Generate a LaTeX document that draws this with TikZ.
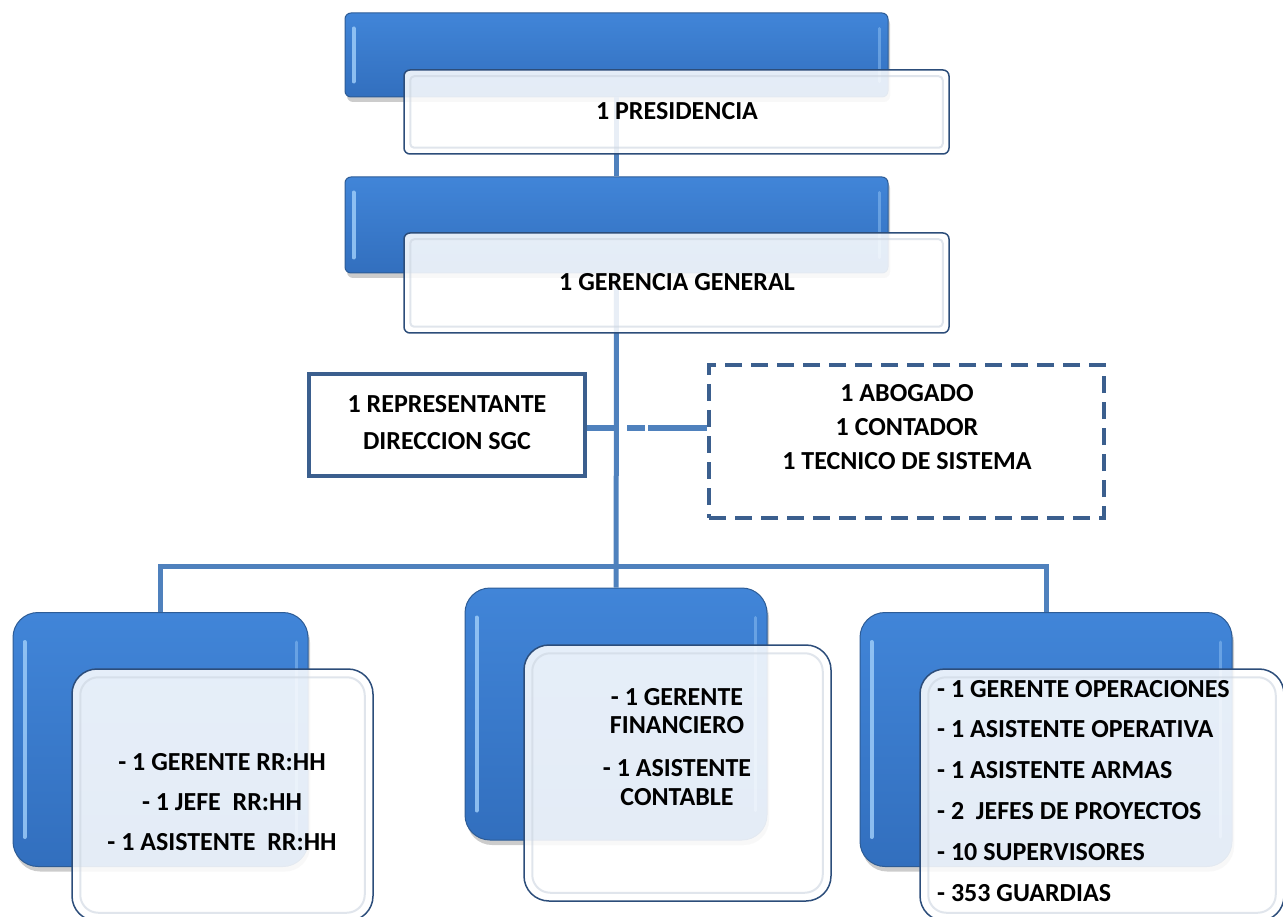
\documentclass[tikz,border=0pt]{standalone}
\usepackage{fontspec}
\setmainfont{Carlito}
\usetikzlibrary{shadows,calc}

\definecolor{linkblue}{HTML}{4F81BD}
\definecolor{frameblue}{HTML}{3B5F8E}
\definecolor{tiletop}{HTML}{4185D8}
\definecolor{tilebot}{HTML}{326FBE}
\definecolor{tileedge}{HTML}{2D5C96}
\definecolor{tileglow}{HTML}{9CCBF8}
\definecolor{cardedge}{HTML}{2C4D7A}
\definecolor{cardglow}{HTML}{CCD5E0}

% light inner frame of a front card
\newcommand\innerbevel[4]{%
  \draw[#2,rounded corners=#3]
    ($(#1.north west)+(#4,#4)$) rectangle ($(#1.south east)+(-#4,-#4)$);}
% glossy strips along the left and right sides of a tile
\newcommand\sideshine[3]{%
  \draw[tileglow, line width=4pt, opacity=0.85, line cap=round]
    ($(#1.north west)+(#2,#3)$) -- ($(#1.south west)+(#2,-#3)$);
  \draw[tileglow, line width=3pt, opacity=0.45, line cap=round]
    ($(#1.north east)+(-#2,#3)$) -- ($(#1.south east)+(-#2,-#3)$);}

\begin{document}
\begin{tikzpicture}[x=1pt,y=-1pt,
  every node/.style={inner sep=0pt},
  lbl/.style={font=\fontsize{26}{#1}\selectfont\bfseries, text=black},
  lbl/.default=30,
  link/.style={draw=linkblue, line width=5pt},
  tile/.style={draw=tileedge, line width=1pt, top color=tiletop, bottom color=tilebot,
    drop shadow={shadow xshift=2pt, shadow yshift=-5pt, opacity=0.4}},
  card/.style={draw=cardedge, line width=1.5pt, fill=white, fill opacity=0.87, text opacity=1},
  cardshine/.style={draw=cardglow, line width=2pt, opacity=0.6},
  plainbox/.style={draw=frameblue, line width=4pt, fill=white},
  dashbox/.style={draw=frameblue, line width=4pt, fill=white, dash pattern=on 17pt off 9pt}
]
\useasboundingbox (0,0) rectangle (1283,917);

% backing tiles
\node[tile, rounded corners=6pt, minimum width=543pt, minimum height=84pt] (t1) at (616.5,55) {};
\node[tile, rounded corners=6pt, minimum width=543pt, minimum height=96pt] (t2) at (616.5,225) {};
\node[tile, rounded corners=25pt, minimum width=295pt, minimum height=254pt] (lb) at (160.5,739.5) {};
\node[tile, rounded corners=25pt, minimum width=302pt, minimum height=252pt] (mb) at (616,714) {};
\node[tile, rounded corners=25pt, minimum width=372pt, minimum height=254pt] (rb) at (1046,739.5) {};
\sideshine{t1}{9}{16}
\sideshine{t2}{9}{16}
\sideshine{lb}{12}{30}
\sideshine{mb}{12}{30}
\sideshine{rb}{12}{30}

% trunk and branches
\coordinate (bus) at (617,566);
\coordinate (tap) at (617,428);
\draw[link] (t1) -- (t2);
\draw[link] (t2) -- (mb);
\draw[link] (lb) |- (bus) -| (rb);

% front cards
\node[card, rounded corners=6pt, minimum width=545pt, minimum height=84pt] (w1) at (676.5,112) {};
\node[card, rounded corners=6pt, minimum width=545pt, minimum height=100pt] (w2) at (676.5,283) {};
\node[card, rounded corners=25pt, minimum width=301pt, minimum height=252pt] (lw) at (222.5,795) {};
\node[card, rounded corners=25pt, minimum width=307pt, minimum height=256pt] (mw) at (677.5,773) {};
\node[card, rounded corners=25pt, minimum width=364pt, minimum height=252pt] (rw) at (1102,795) {};
\innerbevel{w1}{cardshine}{4pt}{7}
\innerbevel{w2}{cardshine}{4pt}{7}
\innerbevel{lw}{cardshine}{18pt}{9}
\innerbevel{mw}{cardshine}{18pt}{9}
\innerbevel{rw}{cardshine}{18pt}{9}
\node[lbl, anchor=base] (prestext) at (677,120) {1 PRESIDENCIA};
\node[lbl, anchor=base] (ggtext) at (677,291) {1 GERENCIA GENERAL};

% staff boxes beside the trunk
\node[plainbox, minimum width=276pt, minimum height=102pt] (rep) at (447,425) {};
\node[lbl=36, align=center, anchor=base] (reptext) at (447,449) {1 REPRESENTANTE\\DIRECCION SGC};
\node[dashbox, minimum width=395pt, minimum height=153pt] (adv) at (906.5,441.5) {};
\node[lbl=34, align=center, anchor=base] (advtext) at (907,469) {1 ABOGADO\\1 CONTADOR\\1 TECNICO DE SISTEMA};
\draw[draw=linkblue, line width=6pt] ([yshift=-3pt]rep.east) -- (tap);
\draw[draw=linkblue, line width=6pt, dash pattern=on 0pt off 10pt on 18pt off 3pt on 80pt] (tap) -- (tap -| adv.west);

% unit staff lists
\node[lbl=40, align=center, anchor=base] (ltext) at (222,850) {- 1 GERENTE RR:HH\\- 1 JEFE\ \ RR:HH\\- 1 ASISTENTE\ \ RR:HH};
\node[lbl=28.5, align=center, anchor=base] (mtext) at (677,805) {- 1 GERENTE\\FINANCIERO\\[14.5pt]- 1 ASISTENTE\\CONTABLE};
\node[lbl=40.8, align=left, anchor=base west] (rtext) at (937,901) {- 1 GERENTE OPERACIONES\\- 1 ASISTENTE OPERATIVA\\- 1 ASISTENTE ARMAS\\- 2\ \ JEFES DE PROYECTOS\\- 10 SUPERVISORES\\- 353 GUARDIAS};
\end{tikzpicture}
\end{document}
